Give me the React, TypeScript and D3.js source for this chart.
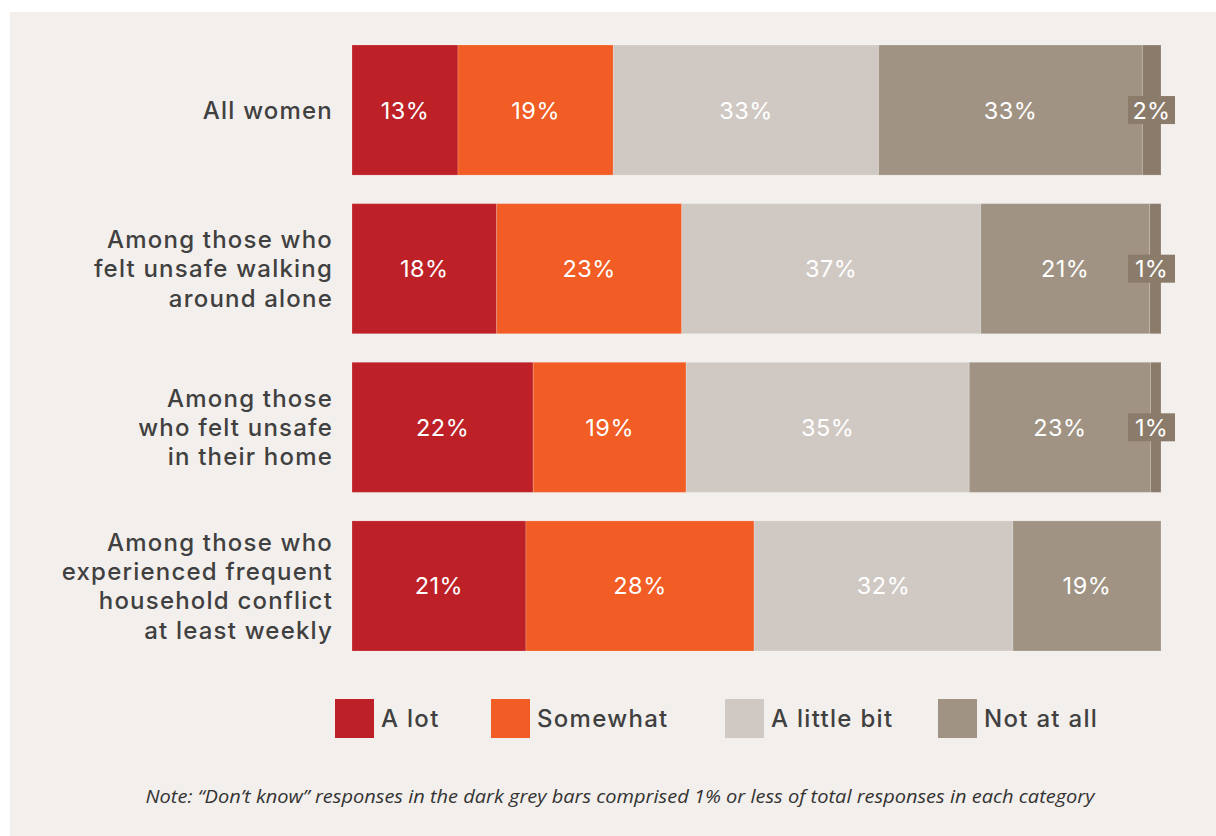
import React from "react";
import * as d3 from "d3";

const categories: string[][] = [
  ["All women"],
  ["Among those who", "felt unsafe walking", "around alone"],
  ["Among those", "who felt unsafe", "in their home"],
  ["Among those who", "experienced frequent", "household conflict", "at least weekly"],
];
const seriesNames = ["A lot", "Somewhat", "A little bit", "Not at all", "Don't know"];
const aLot = [13.1, 17.9, 22.4, 21.5];
const somewhat = [19.2, 22.9, 18.9, 28.2];
const aLittleBit = [32.8, 37.0, 35.0, 32.0];
const notAtAll = [32.6, 20.9, 22.4, 18.3];
const dontKnow = [2.3, 1.4, 1.3, 0];
const labelsALot = ["13%", "18%", "22%", "21%"];
const labelsSomewhat = ["19%", "23%", "19%", "28%"];
const labelsLittle = ["33%", "37%", "35%", "32%"];
const labelsNot = ["33%", "21%", "23%", "19%"];
const labelsDontKnow = ["2%", "1%", "1%", ""];
const colors = ["#bd2127", "#f15d24", "#d0c9c3", "#a09383", "#8b7b6a"];
const legendItems = ["A lot", "Somewhat", "A little bit", "Not at all"];
const note = "Note: \u201cDon\u2019t know\u201d responses in the dark grey bars comprised 1% or less of total responses in each category";

const W = 1216;
const H = 836;
const FONT = "Inter, 'Open Sans', sans-serif";

export default function App() {
  const series = [aLot, somewhat, aLittleBit, notAtAll, dontKnow];
  const labels = [labelsALot, labelsSomewhat, labelsLittle, labelsNot, labelsDontKnow];
  const x = d3.scaleLinear().domain([0, 100]).range([352, 1161]);
  const y = d3
    .scaleBand<number>()
    .domain(d3.range(categories.length))
    .range([45, 651])
    .paddingInner(0.18)
    .paddingOuter(0);
  const rows = categories.map((_, i) => {
    const vals = series.map((s) => s[i]);
    const total = d3.sum(vals);
    let acc = 0;
    return vals.map((v, k) => {
      const x0 = acc;
      acc += (v / total) * 100;
      return { k, x0, x1: acc, v, label: labels[k][i] };
    });
  });
  const bw = y.bandwidth();
  const legendX = [335, 491, 725, 938];
  const lineH = 29.3;
  return (
    <div style={{ position: "absolute", left: 0, top: 0 }}>
      <svg width={W} height={H} style={{ display: "block" }}>
        <rect x={0} y={0} width={W} height={H} fill="#ffffff" />
        <rect x={10} y={12} width={W - 10} height={H - 12} fill="#f3efec" />
        {rows.map((segs, i) => {
          const y0 = y(i)!;
          const cy = y0 + bw / 2;
          const lines = categories[i];
          return (
            <g key={i}>
              {segs
                .filter((s) => s.v > 0)
                .map((s) => (
                  <rect
                    key={s.k}
                    x={x(s.x0)}
                    y={y0}
                    width={x(s.x1) - x(s.x0)}
                    height={bw}
                    fill={colors[s.k]}
                    stroke="rgba(255,255,255,0.18)"
                    strokeWidth={1}
                  />
                ))}
              {segs
                .filter((s) => s.v > 0 && s.k < 4)
                .map((s) => (
                  <text
                    key={"t" + s.k}
                    x={(x(s.x0) + x(s.x1)) / 2}
                    y={cy}
                    dy="0.36em"
                    textAnchor="middle"
                    fill="#ffffff"
                    fontFamily={FONT}
                    fontSize={23.5}
                    letterSpacing={0.5}
                  >
                    {s.label}
                  </text>
                ))}
              {segs
                .filter((s) => s.k === 4 && s.v > 0)
                .map((s) => (
                  <g key="dk">
                    <rect x={x(s.x1) - 33} y={cy - 14} width={47} height={28} fill={colors[4]} />
                    <text
                      x={x(s.x1) - 9.5}
                      y={cy}
                      dy="0.36em"
                      textAnchor="middle"
                      fill="#ffffff"
                      fontFamily={FONT}
                      fontSize={23.5}
                      letterSpacing={0.3}
                    >
                      {s.label}
                    </text>
                  </g>
                ))}
              {lines.map((ln, j) => (
                <text
                  key={"c" + j}
                  x={333}
                  y={cy + (j - (lines.length - 1) / 2) * lineH}
                  dy="0.36em"
                  textAnchor="end"
                  fill="#404040"
                  fontFamily={FONT}
                  fontSize={24}
                  fontWeight={500}
                  letterSpacing={1.2}
                >
                  {ln}
                </text>
              ))}
            </g>
          );
        })}
        {legendItems.map((name, k) => (
          <g key={name}>
            <rect x={legendX[k]} y={699} width={39} height={39} fill={colors[k]} />
            <text
              x={legendX[k] + 46}
              y={718.5}
              dy="0.36em"
              fill="#404040"
              fontFamily={FONT}
              fontSize={24}
              fontWeight={500}
              letterSpacing={1.3}
            >
              {name}
            </text>
          </g>
        ))}
        <text
          x={620}
          y={797}
          dy="0.36em"
          textAnchor="middle"
          fill="#333333"
          fontFamily="'Open Sans', sans-serif"
          fontStyle="italic"
          fontSize={18}
          textLength={949}
          lengthAdjust="spacingAndGlyphs"
        >
          {note}
        </text>
      </svg>
    </div>
  );
}
